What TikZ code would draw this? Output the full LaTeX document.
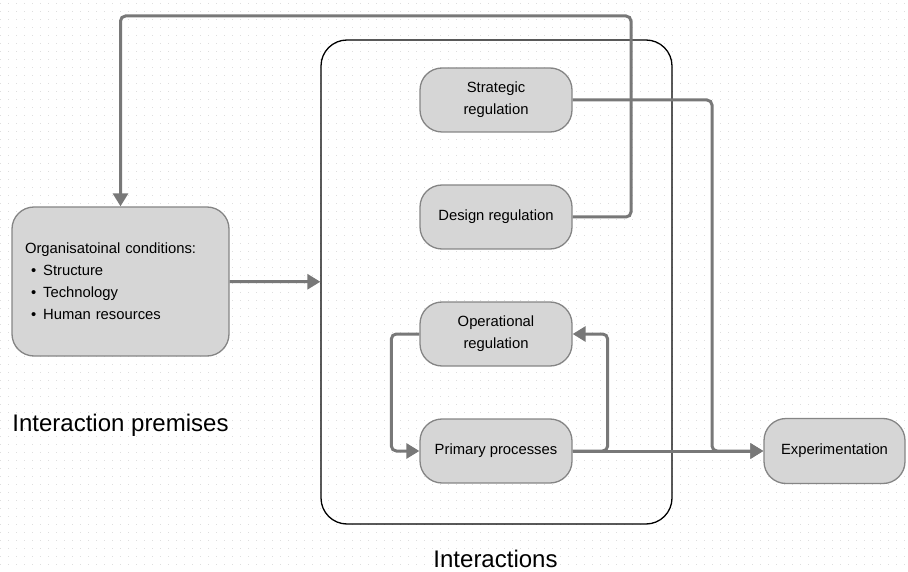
\documentclass[tikz,border=0pt]{standalone}
\usepackage{fontspec}
\setmainfont{Liberation Sans}
\usetikzlibrary{arrows.meta,positioning}

\definecolor{boxfill}{HTML}{D6D6D6}
\definecolor{boxline}{HTML}{858585}
\definecolor{arrowgray}{HTML}{787878}
\definecolor{dotgray}{HTML}{DEDEDE}

\begin{document}
\begin{tikzpicture}[
    x=1pt, y=-1pt,
    block/.style={rectangle, rounded corners=22pt, draw=boxline, line width=1.3pt, fill=boxfill, minimum width=152pt, minimum height=64pt, align=center, font=\fontsize{14.8}{22}\selectfont},
    bigbox/.style={rectangle, rounded corners=26pt, draw=black, line width=1.3pt, minimum width=351pt, minimum height=484pt},
    biglabel/.style={anchor=base, inner sep=0pt, font=\fontsize{24}{28}\selectfont},
    arrow/.style={-{Triangle[length=13pt, width=15pt]}, line width=3pt, draw=arrowgray, rounded corners=5pt}
]
\useasboundingbox (0,0) rectangle (908,572);

% Dotted background
\foreach \yy in {4,12,...,572}
    \draw[dotgray, line width=1pt, dash pattern=on 1pt off 7pt] (0,\yy) -- (908,\yy);

% Interactions frame
\node[bigbox] (inter) at (496.5,282) {};

% Premises
\node[block, text width=191pt, inner xsep=13pt, inner ysep=0pt, minimum height=149pt, align=left] (org) at (120.5,281.5) {
    Organisatoinal conditions:\\
    \hspace*{6pt}\textbullet\hspace{7pt}Structure\\
    \hspace*{6pt}\textbullet\hspace{7pt}Technology\\
    \hspace*{6pt}\textbullet\hspace{7pt}Human resources
};

% Regulation levels
\node[block] (strat) at (496,100) {Strategic\\regulation};
\node[block] (design) at (496,217) {Design regulation};
\node[block] (oper) at (496,334) {Operational\\regulation};
\node[block] (prim) at (496,451) {Primary processes};

% Experimentation
\node[block, minimum width=141pt, minimum height=65pt] (exper) at (834.5,451) {Experimentation};

% Labels
\node[biglabel] (premlbl) at (120.5,431) {Interaction premises};
\node[biglabel] (interlbl) at (495.5,567) {Interactions};

% Connections
\coordinate (topR) at (631,16);
\coordinate (topL) at (120.5,16);
\coordinate (stratR) at (712,100);

\draw[arrow] (org) -- (inter);
\draw[arrow] (design.east) -| (topR) -- (topL) -- (org.north);
\draw[arrow] (strat.east) -- (stratR) |- (exper.west);
\draw[arrow] (oper.west) -- ++(-28,0) |- (prim.west);
\draw[arrow] (prim.east) -- ++(35,0) |- (oper.east);
\draw[arrow] (prim) -- (exper);

\end{tikzpicture}
\end{document}
